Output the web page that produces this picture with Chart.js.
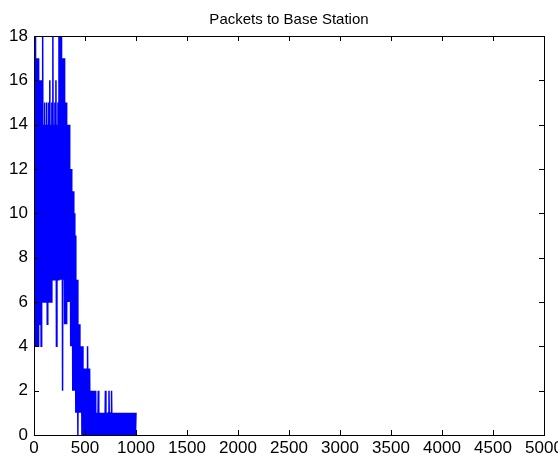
<!DOCTYPE html>
<html>
<head>
<meta charset="utf-8">
<script src="https://cdn.jsdelivr.net/npm/chart.js@4.4.1/dist/chart.umd.min.js"></script>
<style>
    html, body { margin: 0; padding: 0; background: #ffffff; }
    #wrap { width: 558px; height: 457px; }
</style>
</head>
<body>
<div id="wrap"><canvas id="packetsChart" width="558" height="457"></canvas></div>
<script>
    // sample spacing of the read-off series (time units)
    const sampleStep = 5;
    // packets per sample (0 .. 1000)
    const packets = [
        5, 18, 4, 18, 5, 17, 4, 17, 4, 17,
        5, 16, 6, 16, 4, 16, 6, 18, 6, 14,
        6, 15, 6, 14, 6, 15, 5, 14, 6, 15,
        6, 16, 7, 14, 6, 15, 7, 18, 7, 14,
        7, 15, 7, 16, 4, 14, 7, 15, 7, 18,
        7, 18, 7, 18, 7, 17, 2, 17, 7, 17,
        5, 15, 5, 15, 5, 14, 6, 14, 6, 14,
        6, 12, 4, 12, 4, 11, 2, 11, 2, 10,
        2, 9, 1, 6, 1, 7, 0, 5, 1, 5,
        1, 4, 1, 4, 0, 4, 0, 3, 0, 3,
        0, 3, 0, 3, 0, 4, 0, 3, 0, 3,
        0, 2, 0, 2, 0, 2, 0, 2, 0, 1,
        2, 0, 1, 0, 1, 0, 2, 0, 1, 0,
        1, 0, 1, 0, 1, 0, 1, 0, 1, 0,
        2, 0, 1, 0, 1, 0, 1, 2, 0, 1,
        0, 1, 2, 0, 1, 0, 1, 0, 1, 0,
        1, 0, 1, 0, 1, 0, 1, 0, 1, 0,
        1, 0, 1, 0, 1, 0, 1, 0, 1, 0,
        1, 0, 1, 0, 1, 0, 1, 0, 1, 0,
        1, 0, 1, 0, 1, 0, 1, 0, 1, 0,
        1
    ];
    const xTicks = [0, 500, 1000, 1500, 2000, 2500, 3000, 3500, 4000, 4500, 5000];
    const yTicks = [0, 2, 4, 6, 8, 10, 12, 14, 16, 18];

    const points = packets.map(function (v, i) {
        return { x: i * sampleStep, y: v };
    });

    const tickFont = { family: '"Liberation Sans Narrow", "Liberation Sans", Arial, sans-serif', size: 17 };

    // MATLAB style box with ticks pointing inward, title centred on the axes
    const boxTicks = {
        id: 'boxTicks',
        afterLayout(chart) {
            if (chart.titleBlock) {
                chart.titleBlock.left = chart.chartArea.left;
                chart.titleBlock.right = chart.chartArea.right;
            }
        },
        afterDraw(chart) {
            const ctx = chart.ctx;
            const a = chart.chartArea;
            const xs = chart.scales.x;
            const ys = chart.scales.y;
            const len = 5;
            ctx.save();
            ctx.strokeStyle = '#000000';
            ctx.lineWidth = 1;
            ctx.beginPath();
            ctx.rect(Math.round(a.left) + 0.5, Math.round(a.top) + 0.5,
                Math.round(a.right - a.left), Math.round(a.bottom - a.top));
            xs.ticks.forEach(function (t) {
                const px = Math.round(xs.getPixelForValue(t.value)) + 0.5;
                ctx.moveTo(px, a.bottom);
                ctx.lineTo(px, a.bottom - len);
                ctx.moveTo(px, a.top);
                ctx.lineTo(px, a.top + len);
            });
            ys.ticks.forEach(function (t) {
                const py = Math.round(ys.getPixelForValue(t.value)) + 0.5;
                ctx.moveTo(a.left, py);
                ctx.lineTo(a.left + len, py);
                ctx.moveTo(a.right, py);
                ctx.lineTo(a.right - len, py);
            });
            ctx.stroke();
            ctx.restore();
        }
    };

    const ctxLine = document.getElementById('packetsChart').getContext('2d');
    const packetsChart = new Chart(ctxLine, {
        type: 'line',
        data: {
            datasets: [{
                label: 'Packets',
                data: points,
                borderColor: '#0000ff',
                borderWidth: 1.5,
                pointRadius: 0,
                tension: 0,
                fill: false
            }]
        },
        options: {
            responsive: false,
            animation: false,
            layout: {
                padding: { left: 0, right: 14, top: 0, bottom: 0 }
            },
            plugins: {
                legend: { display: false },
                tooltip: { enabled: false },
                title: {
                    display: true,
                    text: 'Packets to Base Station',
                    color: '#000000',
                    font: { family: '"Liberation Sans", Arial, sans-serif', size: 15, weight: 'normal' },
                    padding: { top: 11, bottom: 7 }
                }
            },
            scales: {
                x: {
                    type: 'linear',
                    min: 0,
                    max: 5000,
                    afterBuildTicks(scale) {
                        scale.ticks = xTicks.map(function (v) { return { value: v }; });
                    },
                    afterFit(scale) {
                        scale.height = 22;
                        scale.paddingLeft = 0;
                        scale.paddingRight = 0;
                    },
                    grid: { display: false, drawTicks: false },
                    border: { display: true, color: '#000000' },
                    ticks: {
                        color: '#000000',
                        padding: 3,
                        maxRotation: 0,
                        autoSkip: false,
                        callback: function (value) { return String(value); },
                        font: tickFont
                    }
                },
                y: {
                    type: 'linear',
                    min: 0,
                    max: 18,
                    afterBuildTicks(scale) {
                        scale.ticks = yTicks.map(function (v) { return { value: v }; });
                    },
                    afterFit(scale) {
                        scale.width = 34;
                        scale.paddingTop = 0;
                        scale.paddingBottom = 0;
                    },
                    grid: { display: false, drawTicks: false },
                    border: { display: true, color: '#000000' },
                    ticks: {
                        color: '#000000',
                        padding: 6,
                        autoSkip: false,
                        callback: function (value) { return String(value); },
                        font: tickFont
                    }
                }
            }
        },
        plugins: [boxTicks]
    });
</script>
</body>
</html>
